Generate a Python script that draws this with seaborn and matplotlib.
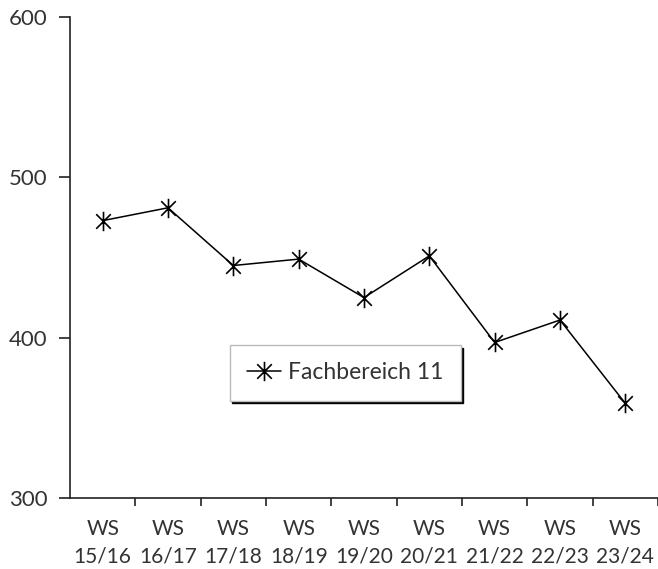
import matplotlib
matplotlib.use('Agg')
import matplotlib.pyplot as plt
import seaborn as sns
import pandas as pd
import numpy as np
from matplotlib.path import Path
from matplotlib.ticker import FixedLocator

# data
semesters = ['WS\n15/16', 'WS\n16/17', 'WS\n17/18', 'WS\n18/19', 'WS\n19/20',
             'WS\n20/21', 'WS\n21/22', 'WS\n22/23', 'WS\n23/24']
students = [473, 481, 445, 449, 425, 451, 397, 411, 359]
series_name = 'Fachbereich 11'

df = pd.DataFrame({'Semester': semesters, 'Studierende': students})

sns.set_style('white')
plt.rcParams['font.family'] = ['Lato', 'DejaVu Sans']

# star marker: vertical bar plus an X
star = Path([(0, -1), (0, 1), (-0.75, -0.75), (0.75, 0.75), (-0.75, 0.75), (0.75, -0.75)],
            [Path.MOVETO, Path.LINETO, Path.MOVETO, Path.LINETO, Path.MOVETO, Path.LINETO])

fig = plt.figure(figsize=(6.58, 5.69), dpi=100)
ax = fig.add_axes([0.1064, 0.1248, 0.8936, 0.8453])

sns.lineplot(data=df, x='Semester', y='Studierende', ax=ax, color='black',
             linewidth=1.1, marker=star, markersize=14, markeredgewidth=1.2,
             markeredgecolor='black', label=series_name, sort=False)

ax.set_xlim(-0.5, len(semesters) - 0.5)
ax.set_ylim(300, 600)
ax.set_yticks([300, 400, 500, 600])
ax.set_xlabel('')
ax.set_ylabel('')

for side in ['top', 'right']:
    ax.spines[side].set_visible(False)
for side in ['left', 'bottom']:
    ax.spines[side].set_color('#222222')
    ax.spines[side].set_linewidth(1.2)

ax.tick_params(axis='x', which='major', bottom=False, length=0, pad=15, labelsize=15,
               labelcolor='#333333')
ax.xaxis.set_minor_locator(FixedLocator(np.arange(0.5, len(semesters), 1.0)))
ax.tick_params(axis='x', which='minor', bottom=True, direction='out', length=6, width=1.2,
               color='#222222')
ax.tick_params(axis='y', left=True, direction='out', length=8, width=1.2, color='#222222',
               labelsize=16, labelcolor='#333333', pad=8)
for lbl in ax.get_xticklabels():
    lbl.set_linespacing(1.45)

leg = ax.legend(loc='center', bbox_to_anchor=(0.468, 0.26), frameon=True, fancybox=False,
                shadow={'color': 'black', 'alpha': 1}, fontsize=16.5, handlelength=1.5,
                handletextpad=0.3, borderpad=0.75, borderaxespad=0)
leg.get_frame().set_edgecolor('#bbbbbb')
leg.get_frame().set_linewidth(1.0)
for t in leg.get_texts():
    t.set_color('#333333')

fig.savefig('out.png', dpi=100)
